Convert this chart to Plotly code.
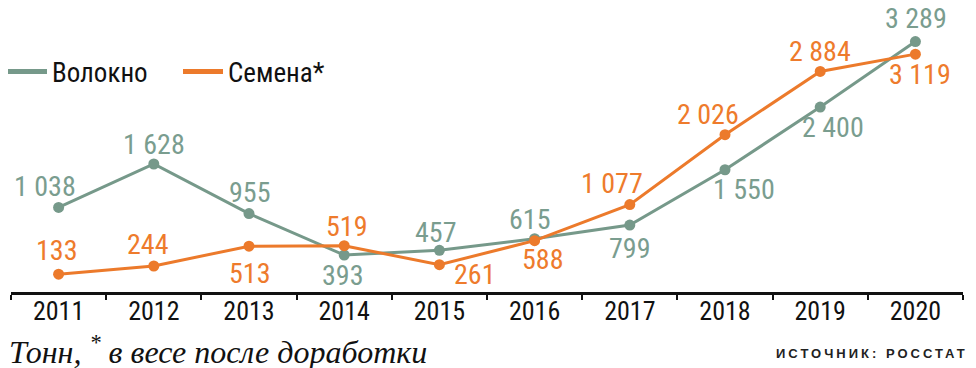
import plotly.graph_objects as go

# ---- data ----
years = ["2011", "2012", "2013", "2014", "2015", "2016", "2017", "2018", "2019", "2020"]
fiber = [1038, 1628, 955, 393, 457, 615, 799, 1550, 2400, 3289]
seeds = [133, 244, 513, 519, 261, 588, 1077, 2026, 2884, 3119]
fiber_name = "Волокно"
seeds_name = "Семена*"
note_text = "Тонн, <sup>*</sup> в весе после доработки"
source_text = "ИСТОЧНИК: РОССТАТ"

# ---- label placement (screen px offsets: dx right, dy down) ----
fiber_dx = [-14, 0, 0, -2, -4, -5, 0, 19, 13, 1]
fiber_dy = [-21, -20, -21, 20, -18, -19, 23, 20, 20, -23]
seeds_dx = [-2, -6, 0, 2, 35, 8, -18, -17, 0, 5]
seeds_dy = [-24, -21, 27, -19, 10, 19, -21, -20, -20, 20]

GREEN = "#76998a"
ORANGE = "#ec7a2b"
GREEN_TXT = "#7a9d8f"
ORANGE_TXT = "#ee7b2c"
NARROW = "Roboto Condensed, Liberation Sans Narrow, DejaVu Sans Condensed, Arial Narrow, sans-serif"

# page has an 8px body margin: figure px = reference px - 8
OFF = 8
W, H = 976 - OFF, 368 - OFF
ML, MR, MT, MB = 11 - OFF, 13, 0, 76
PW, PH = W - ML - MR, H - MT - MB


def fmt(v):
    return f"{v:,}".replace(",", " ")


def px_x(x):  # reference pixel -> paper
    return (x - OFF - ML) / PW


def px_y(y):
    return (H - MB - (y - OFF)) / PH


fig = go.Figure()
fig.add_trace(go.Scatter(x=years, y=fiber, mode="lines+markers", showlegend=False,
                         line=dict(color=GREEN, width=3), marker=dict(color=GREEN, size=11),
                         cliponaxis=False))
fig.add_trace(go.Scatter(x=years, y=seeds, mode="lines+markers", showlegend=False,
                         line=dict(color=ORANGE, width=3), marker=dict(color=ORANGE, size=11),
                         cliponaxis=False))
# legend-only entries
fig.add_trace(go.Scatter(x=[None], y=[None], mode="lines", name=fiber_name,
                         line=dict(color=GREEN, width=5)))
fig.add_trace(go.Scatter(x=[None], y=[None], mode="lines", name=seeds_name,
                         line=dict(color=ORANGE, width=5)))

annotations = []
for i, (v, dx, dy) in enumerate(zip(fiber, fiber_dx, fiber_dy)):
    annotations.append(dict(x=i, y=v, xref="x", yref="y", text=fmt(v), showarrow=False,
                            xshift=dx, yshift=-dy, xanchor="center", yanchor="middle",
                            font=dict(family=NARROW, size=28, color=GREEN_TXT)))
for i, (v, dx, dy) in enumerate(zip(seeds, seeds_dx, seeds_dy)):
    annotations.append(dict(x=i, y=v, xref="x", yref="y", text=fmt(v), showarrow=False,
                            xshift=dx, yshift=-dy, xanchor="center", yanchor="middle",
                            font=dict(family=NARROW, size=28, color=ORANGE_TXT)))

annotations.append(dict(x=px_x(7), y=px_y(350), xref="paper", yref="paper", text=note_text,
                        showarrow=False, xanchor="left", yanchor="middle",
                        font=dict(family="Liberation Serif, DejaVu Serif, serif", size=32,
                                  color="#111111", style="italic")))
annotations.append(dict(x=px_x(970), y=px_y(353), xref="paper", yref="paper",
                        text=f'<span style="letter-spacing:3px">{source_text}</span>',
                        showarrow=False, xanchor="right", yanchor="middle",
                        font=dict(family="Liberation Sans, Arial, sans-serif", size=13,
                                  color="#222222", weight="bold")))

fig.update_layout(
    width=W, height=H,
    margin=dict(l=ML, r=MR, t=MT, b=MB, autoexpand=False),
    paper_bgcolor="white", plot_bgcolor="white",
    showlegend=True,
    legend=dict(orientation="h", x=px_x(2), y=px_y(72),
                xanchor="left", yanchor="middle", bgcolor="rgba(0,0,0,0)",
                font=dict(family=NARROW, size=27, color="#111111"),
                itemwidth=40, entrywidth=121, tracegroupgap=0),
    xaxis=dict(type="category", range=[-0.5, 9.5], showgrid=False, zeroline=False,
               showline=True, linecolor="#111111", linewidth=3, automargin=False,
               ticks="outside", tickson="boundaries", ticklen=5, tickwidth=2, tickcolor="#111111",
               ticklabelstandoff=-6,
               tickfont=dict(family=NARROW, size=26, color="#111111")),
    yaxis=dict(range=[-109, 3745], visible=False, showgrid=False, zeroline=False,
               automargin=False),
    annotations=annotations,
)

fig.write_html("out.html")
